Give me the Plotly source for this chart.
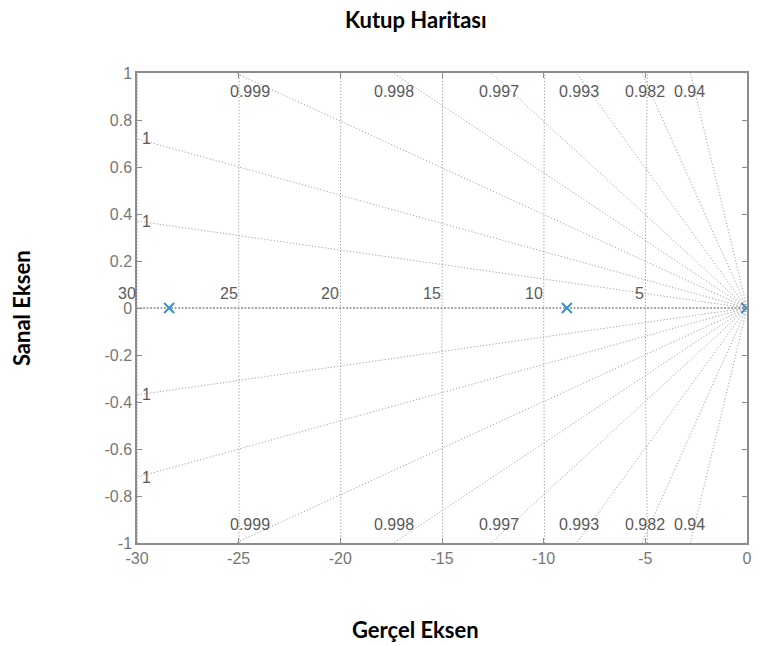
import numpy as np
import plotly.graph_objects as go

# ---- data ----
pole_re = [-28.42, -8.86, -0.03]
pole_im = [0.0, 0.0, 0.0]

# damping ratios of the grid rays (upper half mirrored to lower half)
damping = [0.999924, 0.999712, 0.99921, 0.99835, 0.99686, 0.99297, 0.9818, 0.9412]
damping_labels = ["1", "1", "0.999", "0.998", "0.997", "0.993", "0.982", "0.94"]
# horizontal placement of the top/bottom damping labels (data x)
damping_label_x = [None, None, -24.45, -17.35, -12.2, -8.25, -5.0, -2.85]

# natural frequencies of the grid circles
wn_values = [5, 10, 15, 20, 25, 30]
wn_labels = ["5", "10", "15", "20", "25", "30"]

x_ticks = [-30, -25, -20, -15, -10, -5, 0]
x_tick_text = ["-30", "-25", "-20", "-15", "-10", "-5", "0"]
y_ticks = [-1, -0.8, -0.6, -0.4, -0.2, 0, 0.2, 0.4, 0.6, 0.8, 1]
y_tick_text = ["-1", "-0.8", "-0.6", "-0.4", "-0.2", "0", "0.2", "0.4", "0.6", "0.8", "1"]

XMIN, XMAX, YMIN, YMAX = -30, 0, -1, 1

FONT = "Liberation Sans, Arial, sans-serif"
TITLE_FONT = "Lato, Open Sans, sans-serif"
GRID_COL = "#a2a2a2"
TXT_COL = "#777777"
LBL_COL = "#5a5a5a"

fig = go.Figure()

# damping rays
for z in damping:
    slope = np.sqrt(1 - z * z) / z
    xe = -YMAX / slope
    if xe < XMIN:
        xe = XMIN
    ye = -xe * slope
    for sgn in (1, -1):
        fig.add_trace(go.Scatter(x=[0, xe], y=[0, sgn * ye], mode="lines",
                                 line=dict(color=GRID_COL, width=1, dash="1.2px,2px"),
                                 hoverinfo="skip", showlegend=False))
# real axis (zeta = 1)
fig.add_trace(go.Scatter(x=[0, XMIN], y=[0, 0], mode="lines",
                         line=dict(color="#8a8a8a", width=1.5, dash="2px,1.5px"),
                         hoverinfo="skip", showlegend=False))

# natural frequency circles
yy = np.linspace(YMIN, YMAX, 81)
for wn in wn_values:
    xx = -np.sqrt(wn * wn - yy * yy)
    fig.add_trace(go.Scatter(x=xx, y=yy, mode="lines",
                             line=dict(color="#9a9a9a", width=1, dash="1.2px,2px"),
                             hoverinfo="skip", showlegend=False))

# poles
fig.add_trace(go.Scatter(x=pole_re, y=pole_im, mode="markers",
                         marker=dict(symbol="x-thin", size=10,
                                     line=dict(color="#3a8fd0", width=2)),
                         showlegend=False))

annotations = []
# damping labels
label_y = 0.92
for z, lab, lx in zip(damping, damping_labels, damping_label_x):
    slope = np.sqrt(1 - z * z) / z
    if lx is None:
        yl = -XMIN * slope
        for sgn in (1, -1):
            annotations.append(dict(x=XMIN, y=sgn * yl, xref="x", yref="y",
                                    text=lab, showarrow=False, xanchor="left",
                                    yanchor="middle", xshift=3,
                                    font=dict(family=FONT, size=16, color=LBL_COL)))
    else:
        for sgn in (1, -1):
            annotations.append(dict(x=lx, y=sgn * label_y, xref="x", yref="y",
                                    text=lab, showarrow=False, xanchor="center",
                                    yanchor="middle",
                                    font=dict(family=FONT, size=16, color=LBL_COL)))
# natural frequency labels
for wn, lab in zip(wn_values, wn_labels):
    annotations.append(dict(x=-wn, y=0.0, xref="x", yref="y", text=lab,
                            showarrow=False, xanchor="right", yanchor="bottom",
                            xshift=1, yshift=4,
                            font=dict(family=FONT, size=16, color=LBL_COL)))

# titles
annotations.append(dict(x=0.457, y=1.113, xref="paper", yref="paper",
                        text="<b>Kutup Haritası</b>", showarrow=False,
                        xanchor="center", yanchor="middle",
                        font=dict(family=TITLE_FONT, size=22, color="#000")))
annotations.append(dict(x=0.457, y=-0.183, xref="paper", yref="paper",
                        text="<b>Gerçel Eksen</b>", showarrow=False,
                        xanchor="center", yanchor="middle",
                        font=dict(family=TITLE_FONT, size=22, color="#000")))
annotations.append(dict(x=-0.19, y=0.5, xref="paper", yref="paper",
                        text="<b>Sanal Eksen</b>", showarrow=False, textangle=-90,
                        xanchor="center", yanchor="middle",
                        font=dict(family=TITLE_FONT, size=22, color="#000")))

fig.update_layout(
    width=759, height=646,
    margin=dict(l=137, r=7, t=73, b=103),
    paper_bgcolor="white", plot_bgcolor="white",
    annotations=annotations,
    xaxis=dict(range=[XMIN, XMAX], tickvals=x_ticks, ticktext=x_tick_text,
               showgrid=False, zeroline=False,
               ticks="inside", ticklen=5, tickcolor="#8c8c8c", showline=True,
               linecolor="#8c8c8c", linewidth=1.5, mirror="ticks",
               tickfont=dict(family=FONT, size=16, color=TXT_COL)),
    yaxis=dict(range=[YMIN, YMAX], tickvals=y_ticks, ticktext=y_tick_text,
               showgrid=False, zeroline=False,
               ticks="inside", ticklen=5, tickcolor="#8c8c8c", showline=True,
               linecolor="#8c8c8c", linewidth=1.5, mirror="ticks",
               tickfont=dict(family=FONT, size=16, color=TXT_COL)),
)

fig.write_html("out.html")
